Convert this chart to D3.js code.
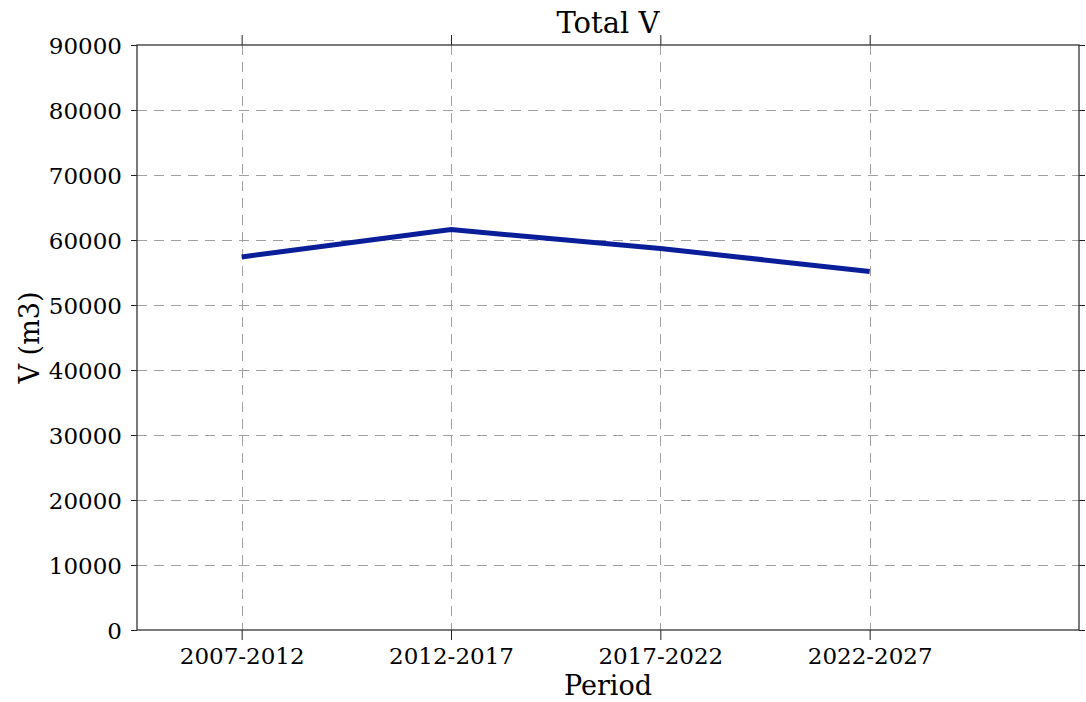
<!DOCTYPE html>
<html>
<head>
<meta charset="utf-8">
<script src="https://cdn.jsdelivr.net/npm/d3@7"></script>
<style>
  body { margin: 0; background: #fff; }
  svg text { font-family: "DejaVu Serif", serif; fill: #000; }
</style>
</head>
<body>
<div id="chart"></div>
<script>
// data
var periods = ["2007-2012", "2012-2017", "2017-2022", "2022-2027"];
var volumes = [57400, 61600, 58700, 55150];
var yTicks = [0, 10000, 20000, 30000, 40000, 50000, 60000, 70000, 80000, 90000];

var width = 1086, height = 702;
var margin = {top: 45, right: 7, bottom: 72, left: 137};
var w = width - margin.left - margin.right,
    h = height - margin.top - margin.bottom;

var svg = d3.select("#chart")
    .append("svg")
    .attr("width", width)
    .attr("height", height);

var g = svg.append("g")
    .attr("transform", "translate(" + margin.left + "," + margin.top + ")");

// x runs from half a step before the first period to one step after the last
var x = d3.scaleLinear()
    .domain([-0.5, periods.length])
    .range([0, w]);

var y = d3.scaleLinear()
    .domain([0, 90000])
    .range([h, 0]);

// snap hairlines onto the pixel grid
function crisp(v) { return Math.round(v) + 0.5; }

// grid
g.append("g")
    .selectAll("line")
    .data(yTicks.slice(1, -1))
    .enter().append("line")
    .attr("x1", 0).attr("x2", w)
    .attr("y1", function(d) { return crisp(y(d)); })
    .attr("y2", function(d) { return crisp(y(d)); })
    .attr("stroke", "#a0a0a0")
    .attr("stroke-width", 1)
    .attr("stroke-dasharray", "10,7");

g.append("g")
    .selectAll("line")
    .data(periods)
    .enter().append("line")
    .attr("x1", function(d, i) { return crisp(x(i)); })
    .attr("x2", function(d, i) { return crisp(x(i)); })
    .attr("y1", 0).attr("y2", h)
    .attr("stroke", "#a0a0a0")
    .attr("stroke-width", 1)
    .attr("stroke-dasharray", "10,7");

// axes
var xIdx = d3.range(periods.length);

var bottomAxis = d3.axisBottom(x)
    .tickValues(xIdx)
    .tickFormat(function(i) { return periods[i]; })
    .tickSize(10).tickSizeOuter(0).tickPadding(8);
var topAxis = d3.axisTop(x)
    .tickValues(xIdx)
    .tickFormat("")
    .tickSize(10).tickSizeOuter(0);
var leftAxis = d3.axisLeft(y)
    .tickValues(yTicks)
    .tickFormat(d3.format("d"))
    .tickSize(6).tickSizeOuter(0).tickPadding(9);
var rightAxis = d3.axisRight(y)
    .tickValues(yTicks)
    .tickFormat("")
    .tickSize(6).tickSizeOuter(0);

var gx = g.append("g").attr("transform", "translate(0," + h + ")").call(bottomAxis);
var gt = g.append("g").call(topAxis);
var gy = g.append("g").call(leftAxis);
var gr = g.append("g").attr("transform", "translate(" + w + ",0)").call(rightAxis);

[gx, gt, gy, gr].forEach(function(a) {
    a.select(".domain").remove();
    a.selectAll("line").attr("stroke", "#222").attr("stroke-width", 1);
    a.selectAll("text")
        .style("font-family", "DejaVu Serif")
        .style("font-size", "23px")
        .attr("fill", "#000");
});
gy.selectAll("text").attr("dy", "0.36em");

// frame
g.append("rect")
    .attr("width", w)
    .attr("height", h)
    .attr("fill", "none")
    .attr("stroke", "#333")
    .attr("stroke-width", 1.3);

// line
var line = d3.line()
    .x(function(d, i) { return x(i); })
    .y(function(d) { return y(d); });

g.append("path")
    .datum(volumes)
    .attr("d", line)
    .attr("fill", "none")
    .attr("stroke", "#0a1e9a")
    .attr("stroke-width", 5);

// labels
svg.append("text")
    .attr("x", margin.left + w / 2)
    .attr("y", 33)
    .attr("text-anchor", "middle")
    .style("font-size", "29px")
    .text("Total V");

svg.append("text")
    .attr("x", margin.left + w / 2)
    .attr("y", 695)
    .attr("text-anchor", "middle")
    .style("font-size", "27px")
    .text("Period");

svg.append("text")
    .attr("transform", "translate(39," + (margin.top + h / 2) + ") rotate(-90)")
    .attr("text-anchor", "middle")
    .style("font-size", "27px")
    .text("V (m3)");
</script>
</body>
</html>
